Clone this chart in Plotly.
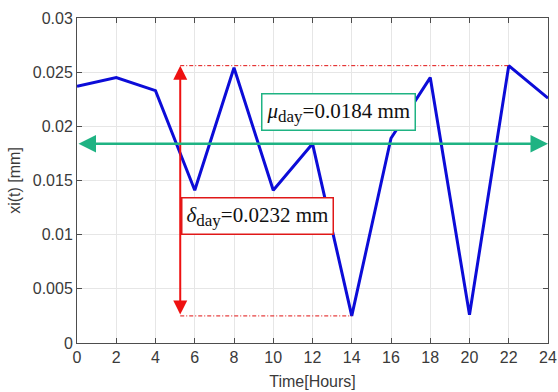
import plotly.graph_objects as go

hours = [0, 2, 4, 6, 8, 10, 12, 14, 16, 18, 20, 22, 24]
xi_mm = [0.0237, 0.0245, 0.0233, 0.0141, 0.0254, 0.0141, 0.0184, 0.0025,
         0.0189, 0.0245, 0.0026, 0.0256, 0.0226]
x_ticks = list(range(0, 25, 2))
y_ticks = [0, 0.005, 0.01, 0.015, 0.02, 0.025, 0.03]
y_tick_labels = ["0", "0.005", "0.01", "0.015", "0.02", "0.025", "0.03"]
mean_value = 0.0184
range_value = 0.0232
arrow_x = 5.26

ymax = max(xi_mm)
ymin = min(xi_mm)
x_at_max = hours[xi_mm.index(ymax)]
x_at_min = hours[xi_mm.index(ymin)]

green = "#1fb383"
fig = go.Figure()
fig.add_trace(go.Scatter(x=hours, y=xi_mm, mode="lines",
                         line=dict(color="#0c0cd8", width=3), showlegend=False))
# dash-dot reference lines
fig.add_trace(go.Scatter(x=[arrow_x, x_at_max], y=[ymax, ymax], mode="lines",
                         line=dict(color="#e01010", width=1, dash="4px,2px,1px,2px"), showlegend=False))
fig.add_trace(go.Scatter(x=[arrow_x, x_at_min], y=[ymin, ymin], mode="lines",
                         line=dict(color="#e01010", width=1, dash="4px,2px,1px,2px"), showlegend=False))

# red double arrow
fig.add_annotation(x=arrow_x, y=ymax, ax=arrow_x, ay=ymin, xref="x", yref="y",
                   axref="x", ayref="y", showarrow=True, arrowhead=2, arrowside="end+start",
                   arrowsize=1.4, arrowwidth=2, arrowcolor="#ee1111", text="")
# green double arrow
fig.add_annotation(x=24, y=mean_value, ax=0, ay=mean_value, xref="x", yref="y",
                   axref="x", ayref="y", showarrow=True, arrowhead=2, arrowside="end+start",
                   arrowsize=1.4, arrowwidth=2.5, arrowcolor=green, text="")

serif = "Liberation Serif, Times New Roman, serif"
sub = '<sub><span style="font-size:17px">day</span></sub>'
fig.add_annotation(x=13.3, y=0.0213, xref="x", yref="y", showarrow=False,
                   text=f"<i>μ</i>{sub}={mean_value} mm",
                   font=dict(family=serif, size=21, color="#111111"),
                   bgcolor="white", bordercolor=green, borderwidth=1.5, borderpad=4)
fig.add_annotation(x=9.22, y=0.01175, xref="x", yref="y", showarrow=False,
                   text=f"<i>δ</i>{sub}={range_value} mm",
                   font=dict(family=serif, size=21, color="#111111"),
                   bgcolor="white", bordercolor="#e01818", borderwidth=1.5, borderpad=4)

sans = "Liberation Sans, Arial, sans-serif"
axis_common = dict(showgrid=True, gridcolor="#e6e6e6", gridwidth=1, showline=True,
                   linecolor="#4d4d4d", linewidth=1, mirror="ticks", ticks="inside",
                   ticklen=5, tickcolor="#4d4d4d", zeroline=False, automargin=False,
                   tickfont=dict(family=sans, size=16, color="#3a3a3a"),
                   title_font=dict(family=sans, size=16, color="#3a3a3a"))
fig.update_xaxes(range=[0, 24], tickvals=x_ticks, title_text="Time[Hours]",
                 title_standoff=10, **axis_common)
fig.update_yaxes(range=[0, 0.03], tickvals=y_ticks, ticktext=y_tick_labels,
                 title_text="xi(t) [mm]", title_standoff=8, **axis_common)
fig.update_layout(width=558, height=392, margin=dict(l=77, r=10, t=18, b=49),
                  plot_bgcolor="white", paper_bgcolor="white")
fig.write_html("out.html", config={"displayModeBar": False},
               post_script="document.body.style.margin='0';")
